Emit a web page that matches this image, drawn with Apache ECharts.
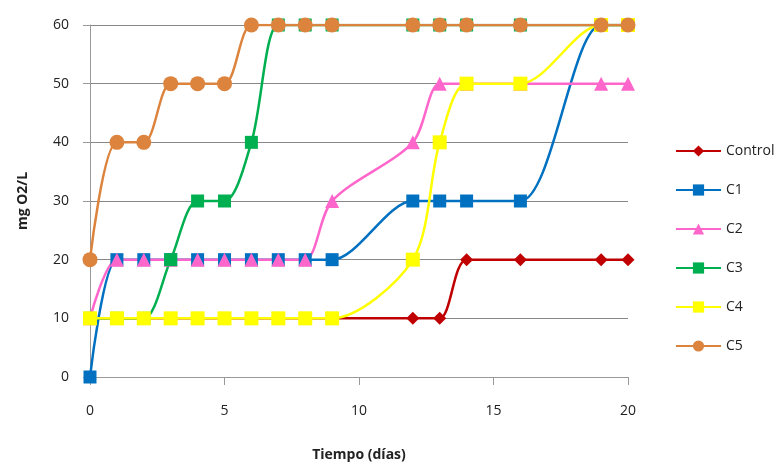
<!DOCTYPE html>
<html><head><meta charset="utf-8">
<script src="https://cdn.jsdelivr.net/npm/echarts@6/dist/echarts.min.js"></script>
<style>html,body{margin:0;padding:0;background:#fff}#c{width:784px;height:465px}</style>
</head><body><div id="c"></div>
<script>
const days = [0,1,2,3,4,5,6,7,8,9,12,13,14,16,19,20];
const control = [10,10,10,10,10,10,10,10,10,10,10,10,20,20,20,20];
const c1 = [0,20,20,20,20,20,20,20,20,20,30,30,30,30,60,60];
const c2 = [10,20,20,20,20,20,20,20,20,30,40,50,50,50,50,50];
const c3 = [10,10,10,20,30,30,40,60,60,60,60,60,60,60,60,60];
const c4 = [10,10,10,10,10,10,10,10,10,10,20,40,50,50,60,60];
const c5 = [20,40,40,50,50,50,60,60,60,60,60,60,60,60,60,60];
const names = ['Control','C1','C2','C3','C4','C5'];
const seriesVals = [control,c1,c2,c3,c4,c5];
const colors = ['#C00000','#0070C0','#FF66CC','#00B050','#FFFF00','#DC843E'];
const symbols = ['diamond','rect','triangle','rect','rect','circle'];
const sizes = [13,13,14,13,14,15];
const font = 'Open Sans, sans-serif';
const chart = echarts.init(document.getElementById('c'));
chart.setOption({
  animation:false,
  color: colors,
  grid:{left:90,right:156,top:25,bottom:88,containLabel:false,outerBoundsMode:'none'},
  legend:{orient:'vertical',left:670,top:139,itemGap:25,itemWidth:45,itemHeight:14,
    textStyle:{fontFamily:font,fontSize:14,color:'#222'},data:names},
  xAxis:{type:'value',min:0,max:20,interval:5,
    name:'Tiempo (días)',nameLocation:'middle',nameGap:71,
    nameTextStyle:{fontFamily:font,fontWeight:'bold',fontSize:14,color:'#222'},
    axisLine:{lineStyle:{color:'#999'}},axisTick:{show:true,length:8,lineStyle:{color:'#999'}},
    splitLine:{show:false},
    axisLabel:{fontFamily:font,fontSize:14,color:'#222',margin:27}},
  yAxis:{type:'value',min:0,max:60,interval:10,
    name:'mg O2/L',nameLocation:'middle',nameGap:60,
    nameTextStyle:{fontFamily:font,fontWeight:'bold',fontSize:14,color:'#222'},
    axisLine:{show:true,lineStyle:{color:'#999'}},axisTick:{show:true,length:7,lineStyle:{color:'#999'}},
    splitLine:{lineStyle:{color:'#888',width:1}},
    axisLabel:{fontFamily:font,fontSize:14,color:'#222',margin:21}},
  series: names.map((n,i)=>({
    name:n,type:'line',smooth:0.3,
    data: days.map((d,j)=>[d,seriesVals[i][j]]),
    symbol:symbols[i],symbolSize:sizes[i],showAllSymbol:true,
    lineStyle:{width:2.5,color:colors[i]},
    itemStyle:{color:colors[i],borderWidth:0}
  }))
});
</script></body></html>
